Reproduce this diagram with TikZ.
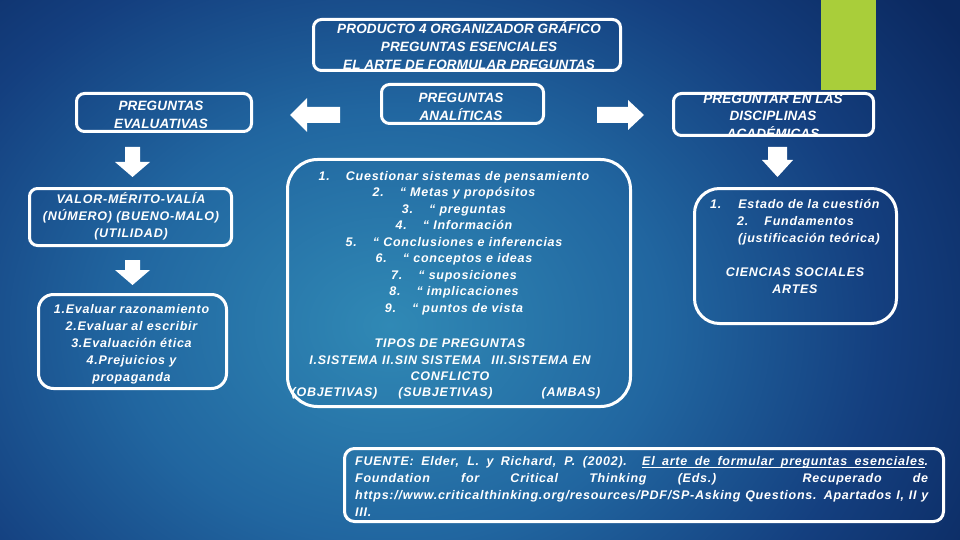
\documentclass[tikz,border=0pt]{standalone}
\usepackage{fontspec}
\setmainfont{Liberation Sans}[LetterSpace=6]
\definecolor{bgA}{HTML}{3089B5}
\definecolor{bgB}{HTML}{2166A0}
\definecolor{bgC}{HTML}{143F7F}
\definecolor{bgD}{HTML}{0B2960}
\definecolor{lime}{HTML}{A9CE3A}
\pgfdeclareradialshading{bgshade}{\pgfpoint{0bp}{0bp}}{color(0bp)=(bgA); color(10bp)=(bgB); color(18bp)=(bgC); color(25bp)=(bgD); color(50bp)=(bgD)}
\newcommand\ulword[1]{\setbox0\hbox{#1}\rlap{\rule[-2.3pt]{\wd0}{0.8pt}}\box0}
\newcommand\ulspace{\leaders\hrule height -1.5pt depth 2.3pt\hskip\fontdimen2\font plus\fontdimen3\font minus\fontdimen4\font\relax}
\begin{document}
\begin{tikzpicture}[x=1pt,y=-1pt,
  box/.style={draw=white, line width=3pt, rounded corners=8pt, inner sep=0pt},
  txt/.style={text=white, font=\bfseries\itshape\fontsize{12.5}{17}\selectfont, align=center, inner sep=0pt},
  head/.style={txt, font=\bfseries\itshape\fontsize{13.5}{18}\selectfont\addfontfeatures{LetterSpace=1}},
  blockarrow/.style={fill=white}]
\useasboundingbox (0,0) rectangle (960,540);
\begin{scope}
  \clip (0,0) rectangle (960,540);
  \fill[bgD] (0,0) rectangle (960,540);
  \shade[shading=bgshade] (390,325) ellipse [x radius=680pt, y radius=540pt];
\end{scope}
% green bar
\fill[lime] (821,0) rectangle (876,90);
% title
\node[box, minimum width=307pt, minimum height=51pt] (title) at (467,45) {};
\node[head] (titleT) at (469,47) {PRODUCTO 4 ORGANIZADOR GRÁFICO\\PREGUNTAS ESENCIALES\\\underline{EL ARTE DE FORMULAR PREGUNTAS}};
% left column
\node[box, minimum width=175pt, minimum height=38pt] (evalH) at (164,112.5) {};
\node[head] (evalHT) at (161,115) {PREGUNTAS\\EVALUATIVAS};
\node[box, minimum width=202pt, minimum height=57pt] (valor) at (130.5,217) {};
\node[txt] (valorT) at (131,216) {VALOR-MÉRITO-VALÍA\\(NÚMERO) (BUENO-MALO)\\(UTILIDAD)};
\node[box, rounded corners=15pt, minimum width=188pt, minimum height=94pt] (evalL) at (132.5,341.5) {};
\node[txt] (evalLT) at (131.5,344) {1.Evaluar razonamiento\\2.Evaluar al escribir\\3.Evaluación ética\\4.Prejuicios y\\propaganda};
% middle column
\node[box, minimum width=162pt, minimum height=39pt] (anaH) at (462.5,104) {};
\node[head] (anaHT) at (461,107) {PREGUNTAS\\ANALÍTICAS};
\node[box, rounded corners=30pt, minimum width=343pt, minimum height=247pt] (ana) at (459,283) {};
\node[txt, font=\bfseries\itshape\fontsize{12.5}{16.5}\selectfont] (anaT) at (454,243) {1.\hspace{16pt}Cuestionar sistemas de pensamiento\\2.\hspace{16pt}“ Metas y propósitos\\3.\hspace{16pt}“ preguntas\\4.\hspace{16pt}“ Información\\5.\hspace{16pt}“ Conclusiones e inferencias\\6.\hspace{16pt}“ conceptos e ideas\\7.\hspace{16pt}“ suposiciones\\8.\hspace{16pt}“ implicaciones\\9.\hspace{16pt}“ puntos de vista};
\node[txt, font=\bfseries\itshape\fontsize{12.5}{16.5}\selectfont] (tipos) at (450,360) {TIPOS DE PREGUNTAS\\I.SISTEMA II.SIN SISTEMA\hspace{10pt}III.SISTEMA EN\\CONFLICTO};
\node[txt] (obj) at (334.5,393) {(OBJETIVAS)};
\node[txt] (subj) at (445.5,393) {(SUBJETIVAS)};
\node[txt] (amb) at (571,393) {(AMBAS)};
% right column
\begin{scope}
  \clip[rounded corners=8pt] (673.5,93.5) rectangle (873.5,135.5);
  \node[head, font=\bfseries\itshape\fontsize{13.5}{17.5}\selectfont\addfontfeatures{LetterSpace=1}] (discT) at (773,116) {PREGUNTAR EN LAS\\DISCIPLINAS\\ACADÉMICAS};
\end{scope}
\node[box, minimum width=200pt, minimum height=42pt] (disc) at (773.5,114.5) {};
\node[box, rounded corners=25pt, minimum width=202pt, minimum height=135pt] (cien) at (795.5,256) {};
\node[txt, align=left, anchor=west] (cienL) at (710,222) {1.\hspace{17pt}Estado de la cuestión\\\hspace*{27pt}2.\hspace{16pt}Fundamentos\\\hspace*{28pt}(justificación teórica)};
\node[txt] (cienT) at (795,280.5) {CIENCIAS SOCIALES\\ARTES};
% source
\node[box, rounded corners=10pt, minimum width=599pt, minimum height=73pt] (src) at (644,485) {};
\node[txt, align=left, anchor=west] (srcT) at (355,486.5) {\makebox[573pt][s]{FUENTE: Elder, L. y Richard, P. (2002). \ulword{El}\ulspace\ulword{arte}\ulspace\ulword{de}\ulspace\ulword{formular}\ulspace\ulword{preguntas}\ulspace\ulword{esenciales}.}\\\makebox[573pt][s]{Foundation for Critical Thinking (Eds.) Recuperado de}\\\makebox[573pt][s]{https://www.criticalthinking.org/resources/PDF/SP-Asking Questions. Apartados I, II y}\\III.};
% block arrows
\fill[blockarrow] (290,115) -- (307,98) -- (307,107) -- (340,107) -- (340,123) -- (307,123) -- (307,132) -- cycle;
\fill[blockarrow] (644,115) -- (628,100) -- (628,107) -- (597,107) -- (597,123) -- (628,123) -- (628,130) -- cycle;
\fill[blockarrow] (132.5,177) -- (115,162) -- (125,162) -- (125,147) -- (140,147) -- (140,162) -- (150,162) -- cycle;
\fill[blockarrow] (132.5,285) -- (115,270) -- (125,270) -- (125,260) -- (140,260) -- (140,270) -- (150,270) -- cycle;
\fill[blockarrow] (777.5,177) -- (762,160) -- (768,160) -- (768,147) -- (787,147) -- (787,160) -- (793,160) -- cycle;
\end{tikzpicture}
\end{document}
